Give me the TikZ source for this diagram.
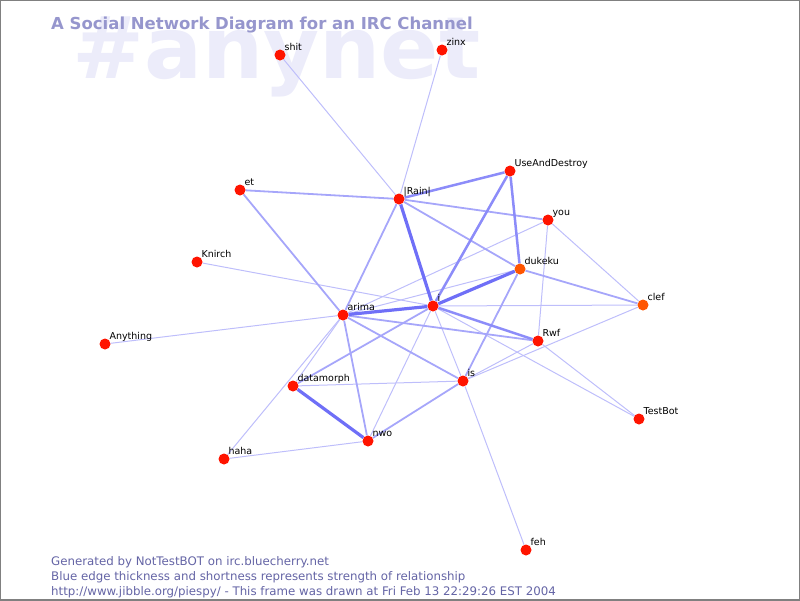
\documentclass[tikz,border=0pt]{standalone}
\usepackage{fontspec}
\setmainfont{DejaVu Sans}
\usetikzlibrary{backgrounds}

\definecolor{wmark}{RGB}{236,236,250}
\definecolor{titlec}{RGB}{150,150,205}
\definecolor{footc}{RGB}{100,100,165}
\definecolor{dotred}{RGB}{255,20,0}
\definecolor{dotorange}{RGB}{255,85,0}
\definecolor{edgec}{RGB}{70,70,245}

\tikzset{
  person/.style={circle, fill=dotred, inner sep=0pt, minimum size=11pt},
  busy/.style={person, fill=dotorange},
  lbl/.style={font=\fontsize{9.5}{10}\selectfont, inner sep=0pt, text depth=0pt, label distance=0.5pt},
  foot/.style={anchor=base west, inner sep=0pt, text=footc, font=\fontsize{11.8}{14}\selectfont},
  weak/.style={draw=edgec!35, line width=1pt},
  fair/.style={draw=edgec!48, line width=1.8pt},
  strong/.style={draw=edgec!62, line width=2.5pt},
  tight/.style={draw=edgec!78, line width=3.2pt},
}

\begin{document}
\begin{tikzpicture}[x=1pt, y=-1pt]
    % page with its frame
    \useasboundingbox (0,0) rectangle (800,600);
    \draw[gray, line width=1.5pt] (0,0) rectangle (800,600);

    % title
    \node[anchor=base west, inner sep=0pt, text=titlec, font=\fontsize{16.5}{18}\selectfont\bfseries] (title) at (51,29) {A Social Network Diagram for an IRC Channel};

    % people
    \node[person, label={[lbl]above right:shit}] (shit) at (280,55) {};
    \node[person, label={[lbl]above right:zinx}] (zinx) at (442,50) {};
    \node[person, label={[lbl]above right:UseAndDestroy}] (uad) at (510,171) {};
    \node[person, label={[lbl]above right:{|Rain|}}] (rain) at (399,199) {};
    \node[person, label={[lbl]above right:et}] (et) at (240,190) {};
    \node[person, label={[lbl]above right:you}] (you) at (548,220) {};
    \node[person, label={[lbl]above right:Knirch}] (knirch) at (197,262) {};
    \node[busy, label={[lbl]above right:dukeku}] (dukeku) at (520,269) {};
    \node[busy, label={[lbl]above right:clef}] (clef) at (643,305) {};
    \node[person, label={[lbl]above right:i}] (ii) at (433,306) {};
    \node[person, label={[lbl]above right:arima}] (arima) at (343,315) {};
    \node[person, label={[lbl]above right:Anything}] (anything) at (105,344) {};
    \node[person, label={[lbl]above right:Rwf}] (rwf) at (538,341) {};
    \node[person, label={[lbl]above right:datamorph}] (datamorph) at (293,386) {};
    \node[person, label={[lbl]above right:is}] (is) at (463,381) {};
    \node[person, label={[lbl]above right:TestBot}] (testbot) at (639,419) {};
    \node[person, label={[lbl]above right:nwo}] (nwo) at (368,441) {};
    \node[person, label={[lbl]above right:haha}] (haha) at (224,459) {};
    \node[person, label={[lbl]above right:feh}] (feh) at (526,550) {};

    % channel name and relationships, under the dots
    \begin{pgfonlayer}{background}
    \node[anchor=base west, inner sep=0pt, text=wmark, font=\fontsize{86}{86}\selectfont\bfseries] (chan) at (72,78) {\#anynet};
    \draw[weak] (shit) -- (rain);
    \draw[weak] (zinx) -- (rain);
    \draw[weak] (knirch) -- (ii);
    \draw[weak] (anything) -- (arima);
    \draw[weak] (arima) -- (you);
    \draw[weak] (arima) -- (dukeku);
    \draw[weak] (arima) -- (datamorph);
    \draw[weak] (arima) -- (haha);
    \draw[weak] (haha) -- (nwo);
    \draw[weak] (datamorph) -- (is);
    \draw[weak] (is) -- (feh);
    \draw[weak] (is) -- (rwf);
    \draw[weak] (is) -- (clef);
    \draw[weak] (ii) -- (clef);
    \draw[weak] (ii) -- (testbot);
    \draw[weak] (rwf) -- (testbot);
    \draw[weak] (you) -- (clef);
    \draw[weak] (you) -- (rwf);
    \draw[weak] (ii) -- (nwo);
    \draw[weak] (ii) -- (is);
    \draw[fair] (et) -- (arima);
    \draw[fair] (et) -- (rain);
    \draw[fair] (rain) -- (you);
    \draw[fair] (rain) -- (dukeku);
    \draw[fair] (rain) -- (arima);
    \draw[fair] (dukeku) -- (clef);
    \draw[fair] (datamorph) -- (ii);
    \draw[fair] (arima) -- (nwo);
    \draw[fair] (arima) -- (is);
    \draw[fair] (arima) -- (rwf);
    \draw[fair] (is) -- (dukeku);
    \draw[fair] (is) -- (nwo);
    \draw[strong] (rain) -- (uad);
    \draw[strong] (uad) -- (ii);
    \draw[strong] (uad) -- (dukeku);
    \draw[strong] (ii) -- (rwf);
    \draw[tight] (rain) -- (ii);
    \draw[tight] (ii) -- (dukeku);
    \draw[tight] (arima) -- (ii);
    \draw[tight] (datamorph) -- (nwo);
    \end{pgfonlayer}

    % footer
    \node[foot] (gen) at (51,565) {Generated by NotTestBOT on irc.bluecherry.net};
    \node[foot] (legend) at (51,580) {Blue edge thickness and shortness represents strength of relationship};
    \node[foot] (stamp) at (51,595) {http://www.jibble.org/piespy/ - This frame was drawn at Fri Feb 13 22:29:26 EST 2004};
\end{tikzpicture}
\end{document}
